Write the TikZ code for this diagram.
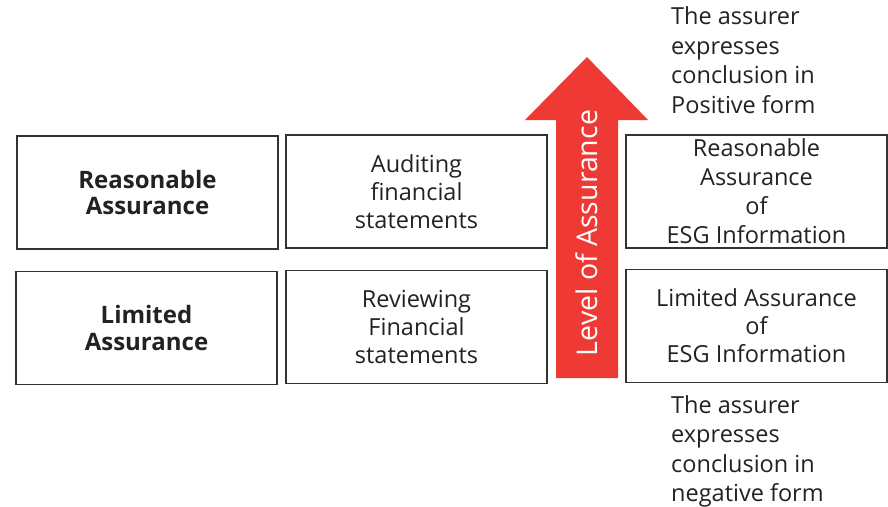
\documentclass[tikz,border=0pt]{standalone}
\usepackage{fontspec}
\setmainfont{Open Sans}
\definecolor{boxline}{HTML}{333333}
\definecolor{txt}{HTML}{222222}
\definecolor{levelred}{HTML}{EF3935}
\begin{document}
\begin{tikzpicture}[x=1pt,y=-1pt,
  cell/.style={draw=boxline, line width=1.6pt, minimum width=261pt, minimum height=113pt,
    inner sep=0pt, align=center, text=txt, font=\fontsize{23.5}{28}\selectfont},
  headcell/.style={cell, font=\fontsize{24}{26.5}\selectfont\bfseries},
  note/.style={align=left, text=txt, inner sep=0pt, anchor=north west,
    font=\fontsize{23.5}{29.5}\selectfont}]
\useasboundingbox (0,0) rectangle (888,506);

% left column: assurance levels
\node[headcell] (ra) at (147.5,192.5) {Reasonable\\Assurance};
\node[headcell] (la) at (146.5,328) {Limited\\Assurance};

% middle column: financial statements
\node[cell] (fa) at (416.5,191.5) {Auditing\\financial\\statements};
\node[cell] (fr) at (416.5,327) {Reviewing\\Financial\\statements};

% arrow showing the level of assurance
\fill[levelred] (556,378) -- (556,120) -- (525,120) -- (587,57) -- (648,120)
  -- (618,120) -- (618,378) -- cycle;
\node[rotate=90, text=white, font=\fontsize{28.5}{32}\selectfont, inner sep=0pt]
  (lvl) at (587,233) {Level of Assurance};

% right column: ESG information
\node[cell, font=\fontsize{23.5}{29}\selectfont] (er) at (756.5,191.5)
  {Reasonable\\Assurance\\of\\ESG Information};
\node[cell] (el) at (756.5,326) {Limited Assurance\\of\\ESG Information};

% conclusion forms
\node[note] (pos) at (671,6.5) {The assurer\\expresses\\conclusion in\\Positive form};
\node[note] (neg) at (671,395) {The assurer\\expresses\\conclusion in\\negative form};
\end{tikzpicture}
\end{document}
